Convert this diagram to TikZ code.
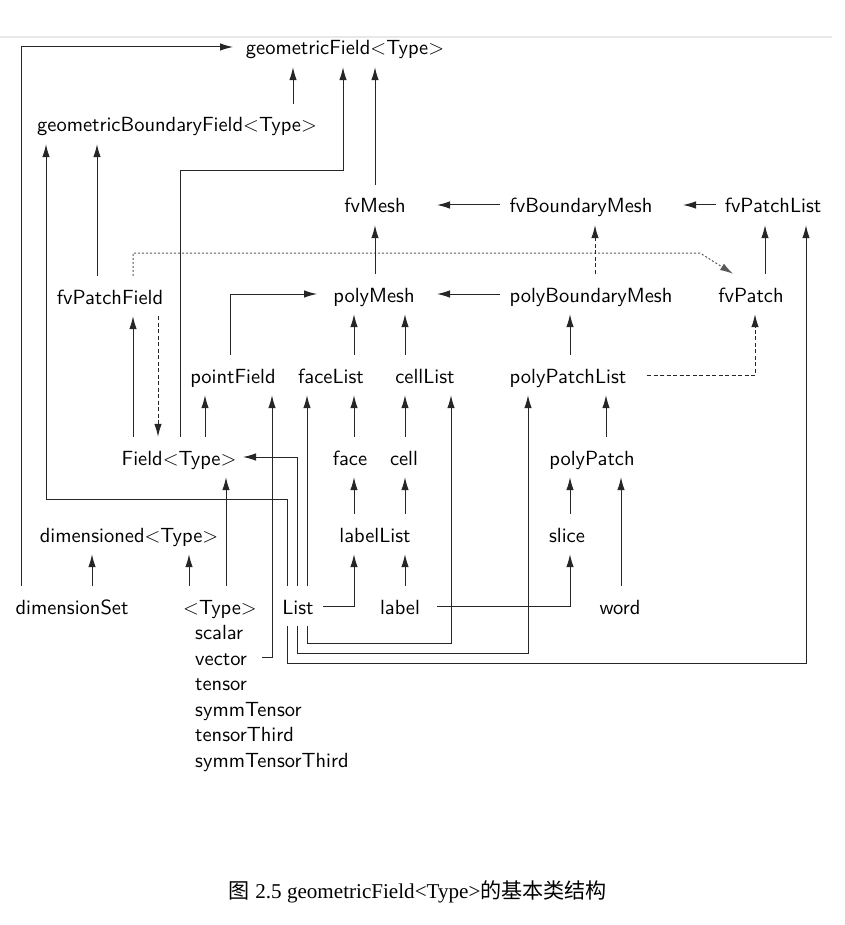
\documentclass[tikz,border=0pt]{standalone}
\usepackage{fontspec}
\usetikzlibrary{arrows.meta}
\setmainfont{Liberation Serif}
\newfontfamily\dgfont{lmsans10-regular.otf}
\newfontfamily\cjkfont{Noto Sans CJK SC}

\begin{document}
\begin{tikzpicture}[x=1pt,y=-1pt,
  cls/.style={font=\dgfont\fontsize{20.5}{24}\selectfont, anchor=base,
    inner xsep=9pt, inner ysep=8pt, text height=20pt, text depth=4pt},
  item/.style={cls, anchor=base west},
  link/.style={draw=black!85, line width=1pt},
  arr/.style={link, -{Latex[length=13pt,width=7.5pt]}},
  dsh/.style={arr, dash pattern=on 4pt off 2.5pt},
  dot/.style={arr, draw=black!65, dash pattern=on 2pt off 2pt},
]
\useasboundingbox (0,0) rectangle (844,925);

% page rule
\draw[line width=2pt, black!9] (0,37.5) -- (832,37.5);

% classes
\node[cls] (gf)  at (345,55)  {geometricField$<$Type$>$};
\node[cls] (gbf) at (177,132) {geometricBoundaryField$<$Type$>$};
\node[cls] (fm)  at (375,213) {fvMesh};
\node[cls] (fbm) at (581,213) {fvBoundaryMesh};
\node[cls] (fpl) at (773,213) {fvPatchList};
\node[cls] (fpf) at (110,304) {fvPatchField};
\node[cls] (pm)  at (374,302) {polyMesh};
\node[cls] (pbm) at (591,302) {polyBoundaryMesh};
\node[cls] (fvp) at (751,302) {fvPatch};
\node[cls] (pf)  at (233,383) {pointField};
\node[cls] (fl)  at (331,383) {faceList};
\node[cls] (cl)  at (425,383) {cellList};
\node[cls] (ppl) at (568,383) {polyPatchList};
\node[cls] (fld) at (179,465) {Field$<$Type$>$};
\node[cls] (fc)  at (350,465) {face};
\node[cls] (ce)  at (404,465) {cell};
\node[cls] (pp)  at (592,465) {polyPatch};
\node[cls] (dim) at (129,542) {dimensioned$<$Type$>$};
\node[cls] (ll)  at (375,542) {labelList};
\node[cls] (sl)  at (567,542) {slice};
\node[cls] (ds)  at (72,614)  {dimensionSet};
\node[cls] (ty)  at (220,614) {$<$Type$>$};
\node[cls] (li)  at (298,614) {List};
\node[cls] (lb)  at (400,614) {label};
\node[cls] (wd)  at (620,614) {word};

% template arguments
\node[item] (sca) at (186,639) {scalar};
\node[item] (vec) at (186,665) {vector};
\node[item] (ten) at (186,690) {tensor};
\node[item] (stn) at (186,716) {symmTensor};
\node[item] (tth) at (186,741) {tensorThird};
\node[item] (sth) at (186,767) {symmTensorThird};

% caption
\node[font=\fontsize{21.1}{25}\selectfont, anchor=base] (cap) at (418,898)
  {{\cjkfont 图} 2.5 geometricField<Type>{\cjkfont 的基本类结构}};

% into geometricField
\draw[arr] (ds.north -| 21,0) |- (gf.west -| 233,0);
\draw[arr] (gbf.north -| 293,0) -- (gf.south -| 293,0);
\draw[arr] (fld.north -| 180,0) |- (343,171) -- (gf.south -| 343,0);
\draw[arr] (fm.north -| 375,0) -- (gf.south -| 375,0);

% into geometricBoundaryField
\draw[arr] (li.north -| 287,0) |- (46,499) -- (gbf.south -| 46,0);
\draw[arr] (fpf.north -| 97,0) -- (gbf.south -| 97,0);

% fvPatchField
\draw[arr] (fld.north -| 133,0) -- (fpf.south -| 133,0);
\draw[dsh] (fpf.south -| 158,0) -- (fld.north -| 158,0);
\draw[dot] (fpf.north -| 133,0) |- (700,253) -- (fvp.north -| 733,0);

% meshes
\draw[arr] (fbm.west) -- (fm.east -| 437,0);
\draw[arr] (fpl.west) -- (fbm.east -| 683,0);
\draw[arr] (pm.north -| 375,0) -- (fm.south -| 375,0);
\draw[dsh] (pbm.north -| 595,0) -- (fbm.south -| 595,0);
\draw[arr] (fvp.north -| 765,0) -- (fpl.south -| 765,0);
\draw[arr] (pbm.west) -- (pm.east -| 437,0);
\draw[arr] (pf.north -| 230,0) |- (pm.west -| 317,0);
\draw[arr] (fl.north -| 354,0) -- (pm.south -| 354,0);
\draw[arr] (cl.north -| 405,0) -- (pm.south -| 405,0);
\draw[arr] (ppl.north -| 570,0) -- (pbm.south -| 570,0);
\draw[dsh] (ppl.east -| 647,0) -| (fvp.south -| 755,0);

% lists and fields
\draw[arr] (fld.north -| 205,0) -- (pf.south -| 205,0);
\draw[arr] (vec.east -| 262,0) -| (pf.south -| 272,0);
\draw[arr] (li.north -| 307,0) -- (fl.south -| 307,0);
\draw[arr] (li.north -| 297,0) |- (fld.east -| 243,0);
\draw[arr] (li.south -| 307,0) |- (451,643) -- (cl.south -| 451,0);
\draw[arr] (li.south -| 297,0) |- (528,653) -- (ppl.south -| 528,0);
\draw[arr] (li.south -| 287,0) |- (806,663) -- (fpl.south -| 806,0);
\draw[arr] (fc.north -| 354,0) -- (fl.south -| 354,0);
\draw[arr] (ce.north -| 405,0) -- (cl.south -| 405,0);
\draw[arr] (pp.north -| 606,0) -- (ppl.south -| 606,0);

\draw[arr] (ll.north -| 354,0) -- (fc.south -| 354,0);
\draw[arr] (ll.north -| 405,0) -- (ce.south -| 405,0);
\draw[arr] (sl.north -| 570,0) -- (pp.south -| 570,0);
\draw[arr] (wd.north -| 621,0) -- (pp.south -| 621,0);

\draw[arr] (ds.north -| 92,0) -- (dim.south -| 92,0);
\draw[arr] (ty.north -| 189,0) -- (dim.south -| 189,0);
\draw[arr] (ty.north -| 226,0) -- (fld.south -| 226,0);
\draw[arr] (li.east -| 323,0) -| (ll.south -| 354,0);
\draw[arr] (lb.north -| 405,0) -- (ll.south -| 405,0);
\draw[arr] (lb.east -| 437,0) -| (sl.south -| 570,0);
\end{tikzpicture}
\end{document}
